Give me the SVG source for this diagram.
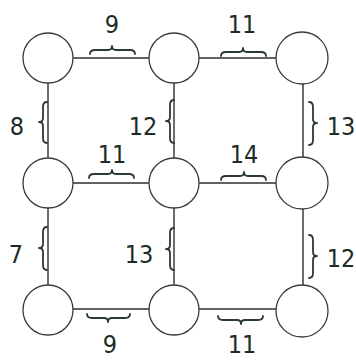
<svg xmlns="http://www.w3.org/2000/svg" width="356" height="361" viewBox="0 0 356 361">
<style>
.node{fill:#fff;stroke:#3a3a3a;stroke-width:1.3}
.edge{stroke:#2f2f2f;stroke-width:1.4;fill:none}
.brace{stroke:#2a3a30;stroke-width:1.8;fill:none;stroke-linecap:round;stroke-linejoin:round}
.lbl{font-family:"DejaVu Sans Condensed","DejaVu Sans",sans-serif;font-size:25px;fill:#1c2b24;text-anchor:middle}
</style>
<rect width="356" height="361" fill="#fff"/>
<g id="connectors">
<line class="edge" x1="73" y1="58" x2="149" y2="58"/>
<line class="edge" x1="199" y1="58" x2="277" y2="58"/>
<line class="edge" x1="73" y1="183" x2="149" y2="183"/>
<line class="edge" x1="199" y1="183" x2="277" y2="183"/>
<line class="edge" x1="73" y1="309" x2="149" y2="309"/>
<line class="edge" x1="199" y1="309" x2="277" y2="309"/>
<line class="edge" x1="48" y1="83" x2="48" y2="158"/>
<line class="edge" x1="48" y1="208" x2="48" y2="285"/>
<line class="edge" x1="174" y1="83" x2="174" y2="158"/>
<line class="edge" x1="174" y1="208" x2="174" y2="285"/>
<line class="edge" x1="303" y1="83" x2="303" y2="158"/>
<line class="edge" x1="303" y1="208" x2="303" y2="286"/>
</g>
<g id="n1"><circle class="node" cx="48" cy="58" r="25"/></g>
<g id="n2"><circle class="node" cx="174" cy="58" r="25"/></g>
<g id="n3"><circle class="node" cx="302" cy="58" r="26"/></g>
<g id="n4"><circle class="node" cx="48" cy="183" r="25"/></g>
<g id="n5"><circle class="node" cx="174" cy="183" r="25"/></g>
<g id="n6"><circle class="node" cx="302" cy="183" r="26"/></g>
<g id="n7"><circle class="node" cx="48" cy="310" r="25"/></g>
<g id="n8"><circle class="node" cx="174" cy="310" r="25"/></g>
<g id="n9"><circle class="node" cx="302" cy="311" r="26"/></g>
<g id="labels">
<path class="brace" d="M90,54 Q90,50 95,50 L108,50 Q112,50 112,46 Q112,50 116,50 L130,50 Q135,50 135,54"/>
<text class="lbl" x="112" y="33">9</text>
<path class="brace" d="M221,56 Q221,52 226,52 L239,52 Q243,52 243,48 Q243,52 247,52 L261,52 Q266,52 266,56"/>
<text class="lbl" x="242" y="33">11</text>
<path class="brace" d="M89,178 Q89,174 94,174 L108,174 Q112,174 112,170 Q112,174 116,174 L129,174 Q134,174 134,178"/>
<text class="lbl" x="112" y="163">11</text>
<path class="brace" d="M221,180 Q221,176 226,176 L240,176 Q244,176 244,172 Q244,176 248,176 L261,176 Q266,176 266,180"/>
<text class="lbl" x="244" y="163">14</text>
<path class="brace" d="M87,314 Q87,318 92,318 L104,318 Q108,318 108,322 Q108,318 112,318 L125,318 Q130,318 130,314"/>
<text class="lbl" x="110" y="353">9</text>
<path class="brace" d="M218,316 Q218,320 223,320 L237,320 Q241,320 241,324 Q241,320 245,320 L258,320 Q263,320 263,316"/>
<text class="lbl" x="242" y="353">11</text>
<path class="brace" d="M47,102 Q43,102 43,107 L43,118 Q43,122 39,122 Q43,122 43,126 L43,138 Q43,143 47,143"/>
<text class="lbl" x="17" y="135">8</text>
<path class="brace" d="M174,100 Q170,100 170,105 L170,117 Q170,121 166,121 Q170,121 170,125 L170,138 Q170,143 174,143"/>
<text class="lbl" x="143" y="135">12</text>
<path class="brace" d="M309,102 Q313,102 313,107 L313,119 Q313,123 317,123 Q313,123 313,127 L313,140 Q313,145 309,145"/>
<text class="lbl" x="341" y="135">13</text>
<path class="brace" d="M47,227 Q43,227 43,232 L43,244 Q43,248 39,248 Q43,248 43,252 L43,265 Q43,270 47,270"/>
<text class="lbl" x="16" y="263">7</text>
<path class="brace" d="M174,228 Q170,228 170,233 L170,245 Q170,249 166,249 Q170,249 170,253 L170,265 Q170,270 174,270"/>
<text class="lbl" x="139" y="263">13</text>
<path class="brace" d="M309,235 Q313,235 313,240 L313,252 Q313,256 317,256 Q313,256 313,260 L313,273 Q313,278 309,278"/>
<text class="lbl" x="341" y="267">12</text>
</g>
</svg>
